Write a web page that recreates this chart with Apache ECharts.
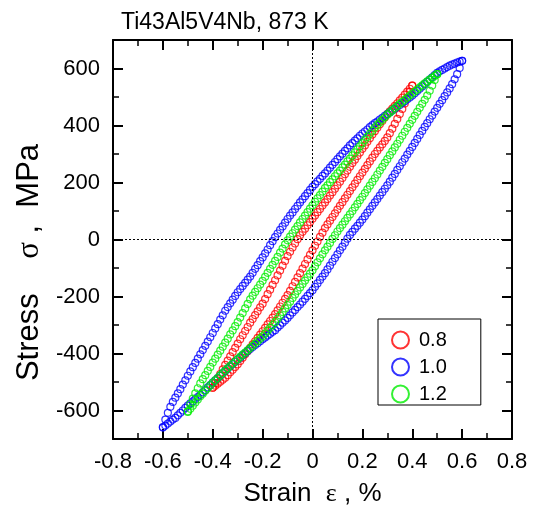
<!DOCTYPE html>
<html>
<head>
<meta charset="utf-8">
<script src="https://cdn.jsdelivr.net/npm/echarts@6/dist/echarts.min.js"></script>
<style>
  html, body { margin: 0; padding: 0; background: #fff; }
  #chart { width: 535px; height: 513px; }
</style>
</head>
<body>
<div id="chart"></div>
<script>
  // strain grid, %
  var strain = [
    -0.6,-0.59,-0.58,-0.57,-0.56,-0.55,-0.54,-0.53,-0.52,-0.51,
    -0.5,-0.49,-0.48,-0.47,-0.46,-0.45,-0.44,-0.43,-0.42,-0.41,
    -0.4,-0.39,-0.38,-0.37,-0.36,-0.35,-0.34,-0.33,-0.32,-0.31,
    -0.3,-0.29,-0.28,-0.27,-0.26,-0.25,-0.24,-0.23,-0.22,-0.21,
    -0.2,-0.19,-0.18,-0.17,-0.16,-0.15,-0.14,-0.13,-0.12,-0.11,
    -0.1,-0.09,-0.08,-0.07,-0.06,-0.05,-0.04,-0.03,-0.02,-0.01,
    0,0.01,0.02,0.03,0.04,0.05,0.06,0.07,0.08,0.09,
    0.1,0.11,0.12,0.13,0.14,0.15,0.16,0.17,0.18,0.19,
    0.2,0.21,0.22,0.23,0.24,0.25,0.26,0.27,0.28,0.29,
    0.3,0.31,0.32,0.33,0.34,0.35,0.36,0.37,0.38,0.39,
    0.4,0.41,0.42,0.43,0.44,0.45,0.46,0.47,0.48,0.49,
    0.5,0.51,0.52,0.53,0.54,0.55,0.56,0.57,0.58,0.59,
    0.6
  ];

  // amplitude 1.0 % (strain -0.6 .. 0.6)
  var blueLower = [
    -660,-653,-646,-639,-632,-626,-617,-608,-600,-591,
    -583,-575,-568,-560,-553,-545,-536,-528,-519,-511,
    -502,-494,-486,-478,-469,-461,-453,-445,-437,-429,
    -421,-414,-406,-399,-391,-384,-377,-370,-364,-357,
    -350,-344,-337,-331,-324,-318,-309,-301,-292,-284,
    -275,-266,-256,-247,-237,-228,-218,-208,-198,-188,
    -178,-166,-154,-142,-130,-118,-105,-92,-78,-65,
    -52,-38,-25,-11,3,16,27,38,48,59,
    70,82,94,106,118,130,142,154,166,178,
    190,203,217,230,244,257,271,284,298,311,
    325,339,353,367,381,395,408,422,435,449,
    462,476,489,503,516,530,545,562,580,602,
    627
  ];
  var blueUpper = [
    -658,-632,-608,-587,-570,-555,-540,-525,-509,-494,
    -478,-463,-448,-433,-418,-403,-388,-373,-358,-343,
    -328,-312,-297,-281,-266,-250,-237,-224,-211,-198,
    -185,-174,-163,-152,-141,-130,-117,-103,-90,-76,
    -63,-49,-35,-20,-6,8,21,34,46,59,
    72,84,95,107,118,130,141,152,163,174,
    185,194,204,213,223,232,242,252,262,272,
    282,292,301,311,320,330,338,347,355,364,
    372,379,386,394,401,408,414,421,427,434,
    440,446,453,459,466,472,479,485,492,498,
    505,513,521,529,537,545,553,561,569,577,
    585,590,595,600,605,610,614,617,621,624,
    627
  ];

  // amplitude 1.2 % (strain -0.5 .. 0.5)
  var greenLower = [
    -605,-594,-583,-572,-561,-550,-541,-531,-522,-512,
    -503,-494,-486,-477,-469,-460,-452,-444,-436,-428,
    -420,-412,-404,-397,-389,-381,-373,-365,-356,-348,
    -340,-330,-320,-310,-300,-290,-278,-266,-254,-242,
    -230,-218,-205,-193,-180,-168,-156,-144,-132,-120,
    -108,-94,-80,-66,-52,-38,-25,-12,2,15,
    28,40,52,64,76,88,100,113,125,138,
    150,163,176,189,202,215,228,242,255,269,
    282,296,309,323,336,350,364,378,392,406,
    420,434,448,462,476,490,505,522,540,560,
    580
  ];
  var greenUpper = [
    -603,-578,-558,-540,-522,-505,-490,-476,-461,-447,
    -432,-418,-404,-390,-376,-362,-348,-333,-319,-304,
    -290,-274,-258,-242,-226,-210,-197,-184,-171,-158,
    -145,-131,-117,-103,-89,-75,-61,-46,-32,-17,
    -3,10,22,35,47,60,72,84,96,108,
    120,132,144,156,168,180,190,201,211,222,
    232,242,253,263,274,284,295,306,316,327,
    338,349,360,371,382,393,402,411,420,429,
    438,446,453,461,468,476,483,490,498,505,
    512,519,526,534,541,548,555,561,567,574,
    580
  ];

  // amplitude 0.8 % (strain -0.4 .. 0.4)
  var redLower = [
    -520,-513,-506,-499,-492,-485,-476,-466,-457,-447,
    -438,-426,-415,-403,-392,-380,-368,-357,-345,-334,
    -322,-310,-298,-286,-274,-262,-249,-235,-222,-208,
    -195,-180,-164,-149,-133,-118,-102,-86,-70,-54,
    -38,-22,-7,9,24,40,53,66,79,92,
    105,118,131,144,157,170,183,196,209,222,
    235,248,261,274,287,300,311,323,334,346,
    358,373,389,406,423,440,458,477,497,518,
    540
  ];
  var redUpper = [
    -520,-504,-488,-472,-456,-440,-425,-410,-395,-380,
    -365,-350,-336,-321,-307,-292,-279,-265,-252,-238,
    -225,-209,-192,-176,-159,-143,-126,-109,-92,-75,
    -58,-43,-28,-14,1,15,27,38,50,61,
    73,84,96,107,119,130,142,154,166,178,
    190,203,216,229,242,255,268,280,293,305,
    318,330,343,355,368,380,392,404,416,428,
    440,450,459,469,478,488,498,508,519,529,
    540
  ];

  var names = ['0.8', '1.0', '1.2'];
  var colors = ['#ff0000', '#0000ff', '#00ee00'];

  var font = 'Liberation Sans, Arial, sans-serif';
  var serif = 'Liberation Serif, Times New Roman, serif';

  function pairs(xs, ys) {
    var out = [];
    for (var i = 0; i < xs.length; i++) out.push([xs[i], ys[i]]);
    return out;
  }

  var redStrain = strain.slice(20, 101);
  var greenStrain = strain.slice(10, 111);

  var loops = [
    pairs(redStrain, redLower).concat(pairs(redStrain, redUpper)),
    pairs(strain, blueLower).concat(pairs(strain, blueUpper)),
    pairs(greenStrain, greenLower).concat(pairs(greenStrain, greenUpper))
  ];

  var series = [];
  for (var k = 0; k < 3; k++) {
    series.push({
      name: names[k],
      type: 'scatter',
      data: loops[k],
      symbol: 'circle',
      symbolSize: 7,
      itemStyle: { color: 'rgba(0,0,0,0)', borderColor: colors[k], borderWidth: 1.2 },
      emphasis: { disabled: true }
    });
  }
  series[0].markLine = {
    silent: true,
    symbol: 'none',
    label: { show: false },
    lineStyle: { color: '#000', type: [2, 2], width: 1 },
    data: [{ xAxis: 0 }, { yAxis: 0 }]
  };

  var black = '#000';
  function xAx(pos, labels) {
    return {
      type: 'value', position: pos, min: -0.8, max: 0.8, interval: 0.2,
      axisLine: { onZero: false, lineStyle: { color: black, width: 2 } },
      axisTick: { inside: true, length: 10, lineStyle: { color: black, width: 2 } },
      minorTick: { show: true, splitNumber: 2, length: 6, lineStyle: { color: black, width: 1.5 } },
      splitLine: { show: false },
      axisLabel: { show: labels, fontFamily: font, fontSize: 22, color: black, margin: 12 }
    };
  }
  function yMajor(pos, labels) {
    return {
      type: 'value', position: pos, min: -700, max: 700, splitNumber: 7,
      minInterval: 200, maxInterval: 200,
      axisLine: { onZero: false, lineStyle: { color: black, width: 2 } },
      axisTick: { inside: true, length: 10, lineStyle: { color: black, width: 2 } },
      splitLine: { show: false },
      axisLabel: {
        show: labels, fontFamily: font, fontSize: 22, color: black, margin: 13,
        showMinLabel: false, showMaxLabel: false,
        formatter: function (v) { return Math.abs(v) >= 700 ? '' : String(v); }
      }
    };
  }
  function yMinor(pos) {
    return {
      type: 'value', position: pos, min: -700, max: 700, interval: 100,
      axisLine: { show: false, onZero: false },
      axisTick: { inside: true, length: 6, lineStyle: { color: black, width: 1.5 } },
      splitLine: { show: false },
      axisLabel: { show: false }
    };
  }

  var xMain = xAx('bottom', true);
  xMain.name = '{a|Strain  }{g|ε}{a| , %}';
  xMain.nameLocation = 'middle';
  xMain.nameGap = 42;
  xMain.nameTextStyle = {
    rich: {
      a: { fontFamily: font, fontSize: 26, color: black },
      g: { fontFamily: serif, fontSize: 26, color: black }
    }
  };

  var yMain = yMajor('left', true);
  yMain.name = '{a|Stress    }{g|σ}{a| ,  MPa}';
  yMain.nameLocation = 'middle';
  yMain.nameRotate = 90;
  yMain.nameGap = 68;
  yMain.nameTextStyle = {
    padding: [0, 46, 0, 0],
    rich: {
      a: { fontFamily: font, fontSize: 31, color: black },
      g: { fontFamily: serif, fontSize: 31, color: black }
    }
  };

  var chart = echarts.init(document.getElementById('chart'));
  chart.setOption({
    animation: false,
    backgroundColor: '#fff',
    title: {
      text: 'Ti43Al5V4Nb, 873 K',
      left: 116, top: 6,
      textStyle: { fontFamily: font, fontSize: 23, fontWeight: 'normal', color: black }
    },
    grid: { left: 113, right: 23, top: 40, bottom: 74 },
    legend: {
      data: names,
      orient: 'vertical',
      left: 378, top: 319,
      padding: [11, 34, 1, 13],
      itemGap: 7,
      itemWidth: 17, itemHeight: 17,
      icon: 'circle',
      borderColor: black, borderWidth: 1,
      backgroundColor: '#fff',
      itemStyle: { borderWidth: 2 },
      textStyle: { fontFamily: font, fontSize: 20, color: black, padding: [0, 0, 0, 5] }
    },
    xAxis: [xMain, xAx('top', false)],
    yAxis: [yMain, yMajor('right', false), yMinor('left'), yMinor('right')],
    series: series
  });
</script>
</body>
</html>
